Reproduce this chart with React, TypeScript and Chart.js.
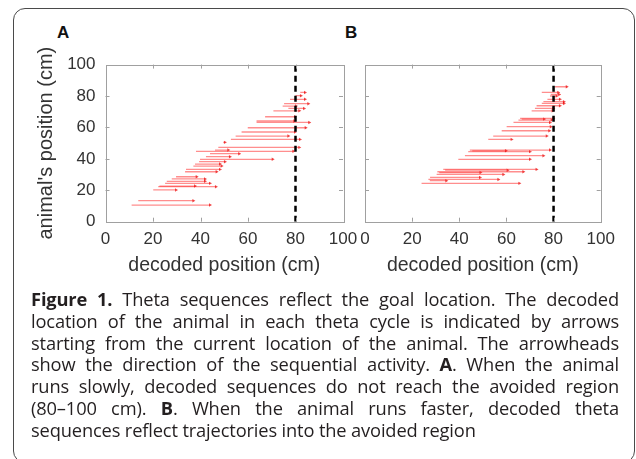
import React, { useEffect, useRef } from "react";
import { Chart, registerables } from "chart.js";

Chart.register(...registerables);

// ---- data ----
const axisMin = 0;
const axisMax = 100;
const tickStep = 20;
const goalPosition = 80;

// Panel A: animal's position (y), decoded sequence start (x) and end (x)
const posA = [82.3, 80.2, 77.9, 75.1, 73.6, 72.1, 70.6, 66.8, 64.1, 63.2, 59.8, 57.1, 54.5, 52.4, 50.5, 47.3, 45.6, 44.8, 43.3, 41.4, 39.7, 38.2, 36.7, 35.4, 33.3, 31.8, 28.6, 27.2, 25.7, 24.4, 22.7, 22.3, 20.2, 13.4, 10.6];
const fromA = [82, 80, 77.7, 75.2, 74.6, 77, 70.7, 67.2, 63.6, 63.6, 59.9, 57.3, 54.8, 52.8, 49.6, 47.5, 46.1, 38.1, 44, 42.3, 39.8, 39.4, 37.7, 37, 33.9, 33.5, 29.7, 27.9, 25.8, 25.1, 22.7, 22.2, 20.1, 13.8, 11];
const toA = [84, 82.3, 84, 85.4, 80.2, 83.6, 81.6, 79.8, 79.5, 85.8, 84.3, 79.8, 77, 81.9, 50.3, 81.6, 51.7, 79.1, 56.3, 52.4, 70.4, 50.3, 48.2, 48.9, 48.2, 46.8, 38.4, 41.9, 41.9, 44, 37.7, 46.5, 29.7, 37, 44];

// Panel B
const posB = [85.9, 82.3, 81.0, 80.0, 77.9, 76.4, 75.3, 73.8, 72.1, 70.6, 65.8, 65.3, 64.7, 63.2, 60.5, 57.9, 54.5, 52.4, 45.6, 45.1, 44.6, 42.0, 39.7, 33.3, 32.8, 31.8, 31.3, 30.1, 28.2, 26.9, 26.1, 24.4];
const fromB = [80.6, 75, 78.8, 78.5, 77.4, 75.7, 75, 72.8, 72.1, 70.7, 65.8, 66.5, 65.1, 63, 60.1, 58, 54.4, 52.3, 44.5, 45.5, 43.8, 42.4, 39.6, 33.2, 34, 30.7, 31.5, 30.4, 27.6, 26.9, 27.5, 24];
const toB = [85.6, 82, 82.4, 81.3, 82.7, 84.4, 84.4, 82.7, 79.9, 79.6, 79.9, 76, 79.2, 78.5, 78.8, 78.2, 77.1, 62.2, 78.5, 59.8, 70, 75.7, 70, 72.8, 60.5, 67.2, 49, 58.7, 48.8, 56.6, 34.5, 65.5];

const captionLines = [
  ["**Figure 1.**", " Theta sequences reflect the goal location. The decoded"],
  ["location of the animal in each theta cycle is indicated by arrows"],
  ["starting from the current location of the animal. The arrowheads"],
  ["show the direction of the sequential activity. ", "**A**", ". When the animal"],
  ["runs slowly, decoded sequences do not reach the avoided region"],
  ["(80–100 cm). ", "**B**", ". When the animal runs faster, decoded theta"],
  ["sequences reflect trajectories into the avoided region"],
];

const FONT = "'Liberation Sans', Arial, Helvetica, sans-serif";
const TEXT = "#333333";

const boxTicks = {
  id: "boxTicks",
  afterDatasetsDraw(chart: any) {
    const { ctx, chartArea: a, scales } = chart;
    const xs = scales.x;
    const ys = scales.y;
    ctx.save();
    ctx.strokeStyle = "#a0a0a0";
    ctx.lineWidth = 1;
    ctx.strokeRect(Math.round(a.left) + 0.5, Math.round(a.top) + 0.5, Math.round(a.right - a.left), Math.round(a.bottom - a.top));
    const L = 4;
    ctx.beginPath();
    xs.ticks.forEach((t: any) => {
      if (t.value <= xs.min || t.value >= xs.max) return;
      const px = Math.round(xs.getPixelForValue(t.value)) + 0.5;
      ctx.moveTo(px, a.bottom);
      ctx.lineTo(px, a.bottom - L);
      ctx.moveTo(px, a.top);
      ctx.lineTo(px, a.top + L);
    });
    ys.ticks.forEach((t: any) => {
      if (t.value <= ys.min || t.value >= ys.max) return;
      const py = Math.round(ys.getPixelForValue(t.value)) + 0.5;
      ctx.moveTo(a.left, py);
      ctx.lineTo(a.left + L, py);
      ctx.moveTo(a.right, py);
      ctx.lineTo(a.right - L, py);
    });
    ctx.stroke();
    ctx.restore();
  },
};

function buildDatasets(pos: number[], from: number[], to: number[]) {
  const ds: any[] = [
    {
      data: [
        { x: goalPosition, y: axisMin },
        { x: goalPosition, y: axisMax },
      ],
      borderColor: "#000000",
      borderWidth: 2.5,
      borderDash: [6, 4],
      pointRadius: 0,
    },
  ];
  pos.forEach((p, i) => {
    ds.push({
      data: [
        { x: from[i], y: p },
        { x: to[i], y: p },
      ],
      borderColor: "rgba(255,30,30,0.5)",
      borderWidth: 1.3,
      pointRadius: [0, 2],
      pointStyle: "triangle",
      rotation: 90,
      pointBackgroundColor: "rgba(235,0,0,0.7)",
      pointBorderWidth: 0,
    });
  });
  return ds;
}

function makeChart(
  canvas: HTMLCanvasElement,
  pos: number[],
  from: number[],
  to: number[],
  showY: boolean,
  pad: { left: number; right: number; top: number },
  xHeight: number
) {
  return new Chart(canvas, {
    type: "line",
    data: { datasets: buildDatasets(pos, from, to) },
    options: {
      animation: false,
      responsive: false,
      maintainAspectRatio: false,
      events: [],
      layout: { padding: { left: pad.left, right: pad.right, top: pad.top, bottom: 0 } },
      plugins: { legend: { display: false }, tooltip: { enabled: false } },
      scales: {
        x: {
          type: "linear",
          min: axisMin,
          max: axisMax,
          ticks: { stepSize: tickStep, color: TEXT, font: { family: FONT, size: 17 }, padding: 7, maxRotation: 0 },
          grid: { display: false, drawTicks: false },
          border: { display: false },
          title: {
            display: true,
            text: "decoded position (cm)",
            color: TEXT,
            font: { family: FONT, size: 19.5 },
            padding: { top: 0, bottom: 13 },
          },
          afterFit: (s: any) => {
            s.height = xHeight;
          },
        },
        y: {
          type: "linear",
          min: axisMin,
          max: axisMax,
          display: showY,
          ticks: { stepSize: tickStep, color: TEXT, font: { family: FONT, size: 17 }, padding: 10 },
          grid: { display: false, drawTicks: false },
          border: { display: false },
          title: {
            display: true,
            text: "animal's position (cm)",
            color: TEXT,
            font: { family: FONT, size: 20 },
            padding: { top: 34, bottom: 0 },
          },
          afterFit: (s: any) => {
            if (showY) s.width = 105.5;
          },
        },
      },
    },
    plugins: [boxTicks],
  } as any);
}

function renderLine(parts: string[], key: number) {
  return parts.map((p, j) =>
    p.startsWith("**") ? (
      <b key={key + "-" + j}>{p.slice(2, -2)}</b>
    ) : (
      <span key={key + "-" + j}>{p}</span>
    )
  );
}

export default function App() {
  const refA = useRef<HTMLCanvasElement>(null);
  const refB = useRef<HTMLCanvasElement>(null);

  useEffect(() => {
    const a = makeChart(refA.current!, posA, fromA, toA, true, { left: 0, right: 22, top: 24.6 }, 68.3);
    const b = makeChart(refB.current!, posB, fromB, toB, false, { left: 15, right: 35.3, top: 24.6 }, 68.3);
    return () => {
      a.destroy();
      b.destroy();
    };
  }, []);

  return (
    <div style={{ position: "fixed", left: 0, top: 0, width: 636, height: 459, background: "#fff", overflow: "hidden" }}>
      <div
        style={{
          position: "absolute",
          left: 13,
          top: 8,
          width: 622,
          height: 455,
          border: "1.5px solid #4a4a4a",
          borderRadius: 12,
          boxSizing: "border-box",
        }}
      />
      <div style={{ position: "absolute", left: 57, top: 23, font: `bold 17px ${FONT}`, color: "#111" }}>A</div>
      <div style={{ position: "absolute", left: 345, top: 23, font: `bold 17px ${FONT}`, color: "#111" }}>B</div>
      <canvas ref={refA} width={365} height={250} style={{ position: "absolute", left: 0, top: 40 }} />
      <canvas ref={refB} width={286} height={250} style={{ position: "absolute", left: 350, top: 40 }} />
      {captionLines.map((parts, i) => (
        <div
          key={i}
          style={{
            position: "absolute",
            left: 31,
            width: 588,
            top: 288 + i * 21.8,
            lineHeight: "21.8px",
            fontFamily: "'Open Sans', sans-serif",
            fontSize: 18.3,
            letterSpacing: -0.15,
            color: "#231f20",
            textAlign: "justify",
            textAlignLast: i === captionLines.length - 1 ? "left" : "justify",
            whiteSpace: "nowrap",
          }}
        >
          {renderLine(parts, i)}
        </div>
      ))}
    </div>
  );
}
